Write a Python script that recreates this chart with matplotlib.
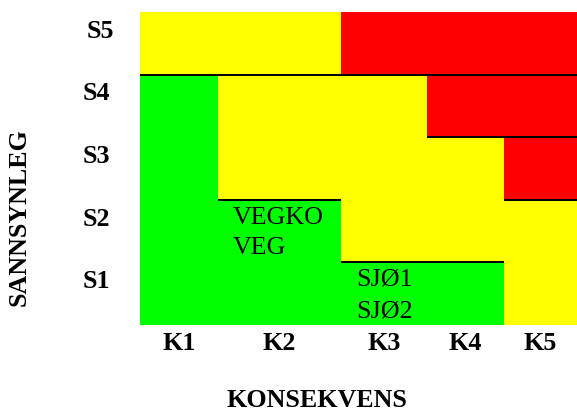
import numpy as np
import matplotlib
matplotlib.use("Agg")
import matplotlib.pyplot as plt
from matplotlib.colors import ListedColormap

plt.rcParams["font.family"] = ["Liberation Serif", "DejaVu Serif"]

CONSEQUENCES = ["K1", "K2", "K3", "K4", "K5"]
PROBABILITIES = ["S1", "S2", "S3", "S4", "S5"]

# risk level per cell, rows S1 (bottom) .. S5 (top): 0 green, 1 yellow, 2 red
RISK = [
    [0, 0, 0, 0, 1],
    [0, 0, 1, 1, 1],
    [0, 1, 1, 1, 2],
    [0, 1, 1, 2, 2],
    [1, 1, 2, 2, 2],
]

# events placed in cells: (column, row) -> lines
CELL_TEXT = {
    (1, 1): ["VEGKO", "VEG"],
    (2, 0): ["SJØ1", "SJØ2"],
}

# borders: (row boundary, first column, last column + 1)
BORDERS = [(4, 0, 5), (3, 3, 5), (2, 1, 2), (2, 4, 5), (1, 2, 4)]

# layout: column widths in pixels (uneven in the original)
COL_WIDTHS = [78, 123, 86, 77, 73]
COLORS = ["#00ff00", "#ffff00", "#ff0000"]

W, H = 577, 413
fig = plt.figure(figsize=(W / 72, H / 72), dpi=72)
ax = fig.add_axes([140 / W, (H - 324.5) / H, 437 / W, 312.5 / H])

x_edges = np.concatenate([[0], np.cumsum(COL_WIDTHS)])
y_edges = np.arange(len(PROBABILITIES) + 1)
ax.pcolormesh(x_edges, y_edges, np.array(RISK), cmap=ListedColormap(COLORS),
              vmin=-0.5, vmax=2.5, antialiased=False)

for y, c0, c1 in BORDERS:
    ax.hlines(y, x_edges[c0], x_edges[c1], color="black", lw=2)

for (c, r), lines in CELL_TEXT.items():
    for i, line in enumerate(lines):
        ax.annotate(line, xy=(x_edges[c], r + 1), xytext=(15, -24 - 31 * i),
                    textcoords="offset points", ha="left", va="baseline",
                    fontsize=26)

ax.set_xlim(0, x_edges[-1])
ax.set_ylim(0, len(PROBABILITIES))
ax.axis("off")

centers = (x_edges[:-1] + x_edges[1:]) / 2
for xc, lab in zip(centers, CONSEQUENCES):
    ax.annotate(lab, xy=(xc, 0), xycoords=ax.get_xaxis_transform(),
                xytext=(0, -25), textcoords="offset points",
                ha="center", va="baseline", fontsize=26, fontweight="bold")

for r, lab in enumerate(PROBABILITIES):
    dx = -40 if lab == "S5" else -44
    ax.annotate(lab, xy=(0, r), xycoords=ax.get_yaxis_transform(),
                xytext=(dx, 36.5), textcoords="offset points",
                ha="center", va="baseline", fontsize=26, fontweight="bold")

fig.text(316.5 / W, 1 / H, "KONSEKVENS", ha="center", va="bottom",
         fontsize=26, fontweight="bold")
fig.text(19 / W, (H - 217) / H, "SANNSYNLEG", ha="center", va="center",
         rotation=90, fontsize=26, fontweight="bold")

fig.savefig("out.png", dpi=72)
